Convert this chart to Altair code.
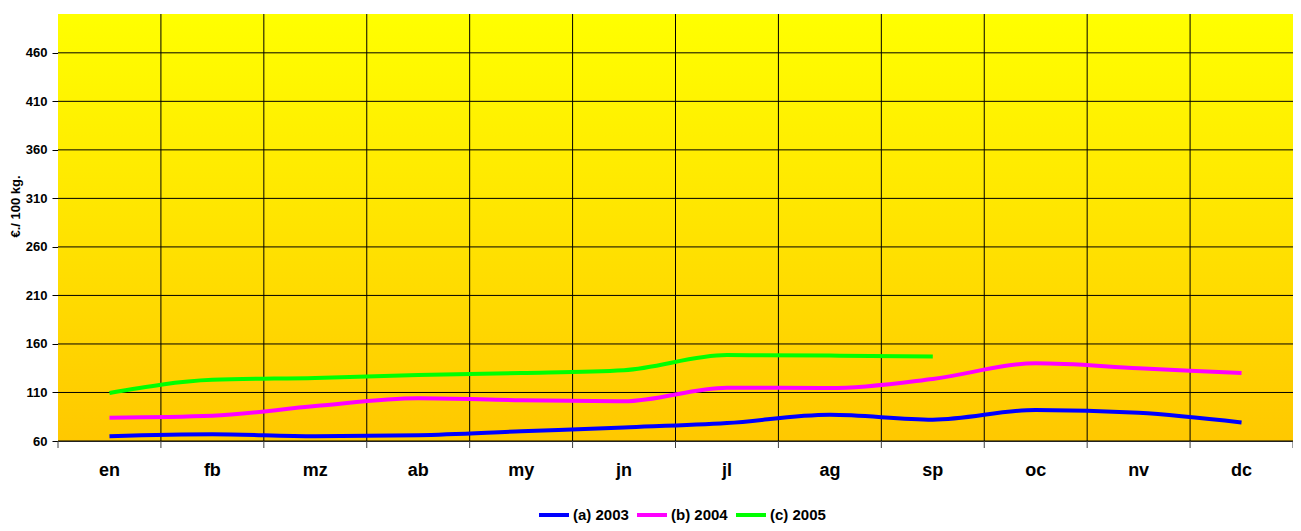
import altair as alt
import pandas as pd

months = ["en", "fb", "mz", "ab", "my", "jn", "jl", "ag", "sp", "oc", "nv", "dc"]
s2003 = [65, 67, 65, 66, 70, 74, 78.5, 87, 82, 92, 89, 79]
s2004 = [84, 86, 96, 104, 102, 101, 115, 114.5, 124, 140, 135, 130]
s2005 = [109.5, 123, 125, 128, 130, 133, 148.5, 148, 147]
series_names = ["(a) 2003", "(b) 2004", "(c) 2005"]
colors = ["#0000FF", "#FF00FF", "#00FF00"]
y_ticks = [60, 110, 160, 210, 260, 310, 360, 410, 460]

rows = []
for name, vals in zip(series_names, [s2003, s2004, s2005]):
    for m, v in zip(months, vals):
        rows.append({"month": m, "value": v, "series": name})
df = pd.DataFrame(rows)

FONT = "Liberation Sans"
W, H = 1235, 427

x_scale = alt.Scale(type="band", paddingInner=0, paddingOuter=0, domain=months)
y_scale = alt.Scale(domain=[60, 500], nice=False, zero=False)

bg = alt.Chart(pd.DataFrame({"y": [60], "y2": [500]})).mark_rect(
    color=alt.LinearGradient(gradient="linear", x1=0, y1=1, x2=0, y2=0,
                             stops=[alt.GradientStop(offset=0, color="#FFC800"),
                                    alt.GradientStop(offset=1, color="#FFFF00")])
).encode(
    x=alt.value(0), x2=alt.value(W),
    y=alt.Y("y:Q", scale=y_scale), y2="y2:Q",
)

ygrid = alt.Chart(pd.DataFrame({"v": y_ticks})).mark_rule(
    color="#000000", strokeWidth=1
).encode(y=alt.Y("v:Q", scale=y_scale))

xgrid = alt.Chart(pd.DataFrame({"m": months[1:]})).mark_rule(
    color="#000000", strokeWidth=1
).encode(x=alt.X("m:N", scale=x_scale, bandPosition=0))

xticks = alt.Chart(pd.DataFrame({"m": months})).mark_rule(
    color="#404040", strokeWidth=1
).encode(x=alt.X("m:N", scale=x_scale, bandPosition=0),
         y=alt.value(H), y2=alt.value(H + 7))

xtick_end = alt.Chart(pd.DataFrame({"m": [months[-1]]})).mark_rule(
    color="#404040", strokeWidth=1
).encode(x=alt.X("m:N", scale=x_scale, bandPosition=1),
         y=alt.value(H), y2=alt.value(H + 7))

lines = alt.Chart(df).mark_line(strokeWidth=4, interpolate="monotone").encode(
    x=alt.X("month:N", sort=months, scale=x_scale,
            axis=alt.Axis(title=None, grid=False, ticks=False,
                          domainColor="#404040",
                          labelAngle=0, labelAlign="center", labelFont=FONT,
                          labelFontSize=18, labelFontWeight="bold",
                          labelColor="#000000",
                          labelBaseline="middle", labelPadding=29)),
    y=alt.Y("value:Q", scale=y_scale,
            axis=alt.Axis(title="€./ 100 kg.", values=y_ticks, grid=False,
                          domainColor="#404040", tickColor="#000000", tickSize=6,
                          labelFont=FONT, labelFontSize=13, labelFontWeight="bold",
                          labelColor="#000000", labelPadding=5,
                          titleFont=FONT, titleFontSize=13, titleFontWeight="bold",
                          titleColor="#000000", titleAngle=270, titleAlign="center",
                          titleBaseline="bottom", titleX=-36, titleY=192)),
    color=alt.Color("series:N", scale=alt.Scale(domain=series_names, range=colors),
                    legend=alt.Legend(title=None, orient="none", direction="horizontal",
                                      legendX=479, legendY=484, symbolType="stroke",
                                      symbolStrokeWidth=4, symbolSize=900,
                                      labelFont=FONT, labelFontSize=15,
                                      labelFontWeight="bold", labelColor="#000000",
                                      columnPadding=0, labelOffset=2)),
)

chart = alt.layer(bg, ygrid, xgrid, xticks, xtick_end, lines).properties(
    width=W, height=H,
    autosize=alt.AutoSizeParams(type="none"),
    padding={"left": 50, "top": 6, "right": 0, "bottom": 82},
).configure_view(stroke="#808080", strokeWidth=1)

chart.save("out.html", embed_options={"renderer": "svg", "actions": False})
